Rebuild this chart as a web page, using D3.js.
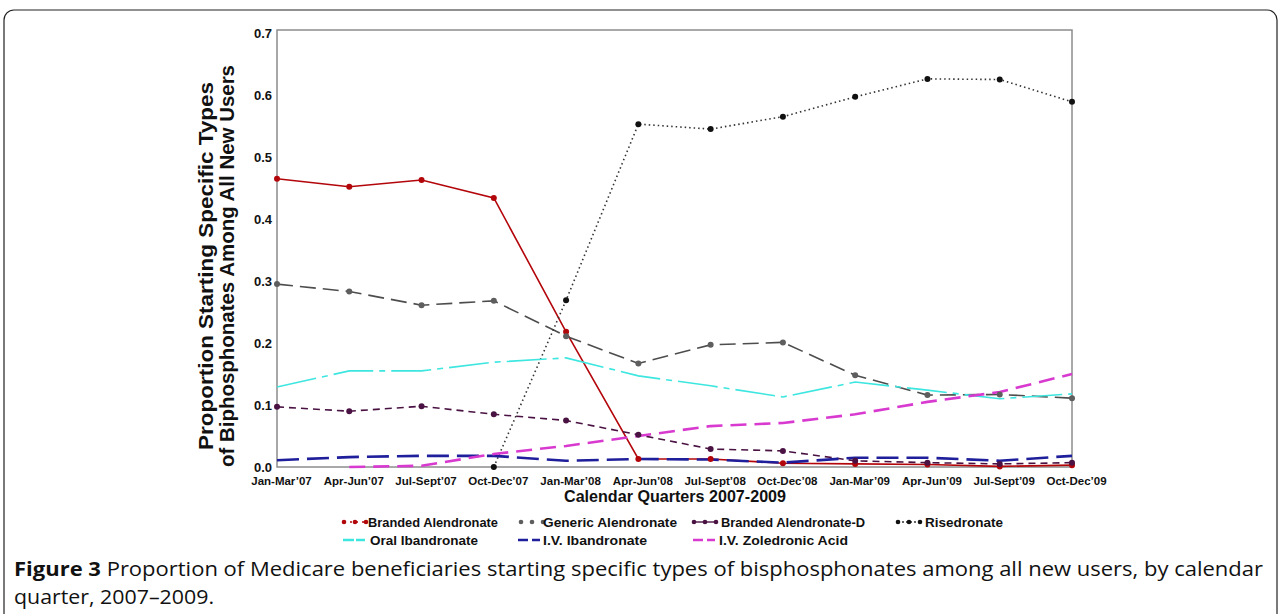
<!DOCTYPE html>
<html>
<head>
<meta charset="utf-8">
<script src="https://cdn.jsdelivr.net/npm/d3@7"></script>
<style>
body { margin: 0; background: #fff; }
svg { display: block; }
</style>
</head>
<body>
<svg width="1282" height="614"></svg>
<script>
// quarters on the x axis
var quarters = ["Jan-Mar\u201907", "Apr-Jun\u201907", "Jul-Sept\u201907", "Oct-Dec\u201907",
  "Jan-Mar\u201908", "Apr-Jun\u201908", "Jul-Sept\u201908", "Oct-Dec\u201908",
  "Jan-Mar\u201909", "Apr-Jun\u201909", "Jul-Sept\u201909", "Oct-Dec\u201909"];
var yTicks = [0, 0.1, 0.2, 0.3, 0.4, 0.5, 0.6, 0.7];

// series values (null = no value that quarter)
var brandedAlen = [0.465, 0.452, 0.463, 0.434, 0.218, 0.013, 0.013, 0.006, 0.005, 0.004, 0.001, 0.003];
var genericAlen = [0.295, 0.283, 0.261, 0.268, 0.211, 0.167, 0.197, 0.201, 0.148, 0.116, 0.117, 0.111];
var brandedAlenD = [0.097, 0.090, 0.098, 0.085, 0.075, 0.052, 0.029, 0.026, 0.010, 0.007, 0.005, 0.007];
var risedronate = [null, null, null, 0.0, 0.269, 0.553, 0.545, 0.565, 0.597, 0.626, 0.625, 0.589];
var oralIband = [0.129, 0.155, 0.155, 0.169, 0.176, 0.147, 0.131, 0.113, 0.137, 0.124, 0.110, 0.118];
var ivIband = [0.011, 0.016, 0.018, 0.018, 0.010, 0.013, 0.012, 0.007, 0.015, 0.015, 0.010, 0.018];
var ivZoled = [null, 0.0, 0.002, 0.021, 0.034, 0.050, 0.066, 0.071, 0.085, 0.105, 0.121, 0.150];

var series = [
  {name: "Branded Alendronate", values: brandedAlen, color: "#b3060b", width: 1.6, dash: null, dot: "#b3060b", legDash: "2,4"},
  {name: "Generic Alendronate", values: genericAlen, color: "#4d4d4d", width: 1.6, dash: "16,7", dot: "#5e5e5e", legDash: "0,40"},
  {name: "Branded Alendronate-D", values: brandedAlenD, color: "#4a1243", width: 1.6, dash: "7,5", dot: "#4a1243", legDash: null},
  {name: "Risedronate", values: risedronate, color: "#333", width: 1.6, dash: "1.5,3", dot: "#111", legDash: "2,2"},
  {name: "Oral Ibandronate", values: oralIband, color: "#3ee6e0", width: 1.6, dash: "40,6,6,6", dot: null, legDash: "11,2"},
  {name: "I.V. Ibandronate", values: ivIband, color: "#1f1f9c", width: 2.6, dash: "22,8", dot: null, legDash: "10,4"},
  {name: "I.V. Zoledronic Acid", values: ivZoled, color: "#d83ad0", width: 2.6, dash: "16,8", dot: null, legDash: "10,4"}
];

var svg = d3.select("svg");
var plotLeft = 277, plotRight = 1072, plotTop = 33, plotBottom = 467;

// outer rounded frame
svg.append("rect")
  .attr("x", 4).attr("y", 10).attr("width", 1273).attr("height", 620)
  .attr("rx", 10)
  .attr("fill", "none").attr("stroke", "#222").attr("stroke-width", 1.2);

var xScale = d3.scaleLinear().domain([0, quarters.length - 1]).range([plotLeft, plotRight]);
var yScale = d3.scaleLinear().domain([0, 0.7]).range([plotBottom, plotTop]);

// plot box
svg.append("rect")
  .attr("x", plotLeft).attr("y", plotTop - 3).attr("width", plotRight - plotLeft).attr("height", plotBottom - plotTop + 3)
  .attr("fill", "none").attr("stroke", "#8c8c8c").attr("stroke-width", 1.5);

// axes
var yAxis = svg.append("g")
  .attr("transform", "translate(" + plotLeft + ",0)")
  .call(d3.axisLeft(yScale).tickValues(yTicks).tickFormat(d3.format(".1f")).tickSize(0).tickPadding(5));
yAxis.select(".domain").remove();
yAxis.selectAll("text")
  .style("font-family", "Liberation Sans, Arial, sans-serif")
  .style("font-weight", "bold").style("font-size", "13px").attr("fill", "#111");

var xAxis = svg.append("g")
  .attr("transform", "translate(0," + plotBottom + ")")
  .call(d3.axisBottom(xScale).tickValues(d3.range(quarters.length)).tickFormat(function(i) { return quarters[i]; }).tickSize(0).tickPadding(10));
xAxis.select(".domain").remove();
xAxis.selectAll("text")
  .attr("dx", 4)
  .style("font-family", "Liberation Sans, Arial, sans-serif")
  .style("font-weight", "bold").style("font-size", "11.5px").attr("fill", "#111");

// lines
var line = d3.line()
  .defined(function(d) { return d != null; })
  .x(function(d, i) { return xScale(i); })
  .y(function(d) { return yScale(d); });

series.forEach(function(s) {
  svg.append("path")
    .datum(s.values)
    .attr("fill", "none")
    .attr("stroke", s.color)
    .attr("stroke-width", s.width)
    .attr("stroke-dasharray", s.dash)
    .attr("d", line);
});
series.forEach(function(s) {
  if (!s.dot) return;
  svg.append("g").selectAll("circle")
    .data(s.values.map(function(v, i) { return {v: v, i: i}; }).filter(function(d) { return d.v != null; }))
    .enter().append("circle")
    .attr("cx", function(d) { return xScale(d.i); })
    .attr("cy", function(d) { return yScale(d.v); })
    .attr("r", 3)
    .attr("fill", s.dot);
});

// axis titles
var yTitle = svg.append("text")
  .attr("transform", "translate(213,266) rotate(-90)")
  .attr("text-anchor", "middle")
  .style("font-family", "Liberation Sans, Arial, sans-serif")
  .style("font-weight", "bold").style("font-size", "20px").attr("fill", "#111");
yTitle.append("tspan").attr("x", 0).attr("y", 0).attr("textLength", 368).attr("lengthAdjust", "spacingAndGlyphs").text("Proportion Starting Specific Types");
yTitle.append("tspan").attr("x", 0).attr("y", 21).attr("textLength", 402).attr("lengthAdjust", "spacingAndGlyphs").text("of Biphosphonates Among All New Users");

svg.append("text")
  .attr("x", 675).attr("y", 502)
  .attr("text-anchor", "middle")
  .attr("textLength", 222).attr("lengthAdjust", "spacingAndGlyphs")
  .style("font-family", "Liberation Sans, Arial, sans-serif")
  .style("font-weight", "bold").style("font-size", "17px").attr("fill", "#111")
  .text("Calendar Quarters 2007-2009");

// legend
var legendPos = [
  {x: 344, y: 527, tx: 368, w: 130}, {x: 521, y: 527, tx: 543, w: 134},
  {x: 694, y: 527, tx: 721, w: 144}, {x: 898, y: 527, tx: 925, w: 78},
  {x: 343, y: 545, tx: 370, w: 108}, {x: 518, y: 545, tx: 543, w: 104},
  {x: 693, y: 545, tx: 719, w: 129}
];
var legend = svg.append("g");
series.forEach(function(s, k) {
  var p = legendPos[k];
  var g = legend.append("g");
  var len = 22;
  if (s.legDash !== "0,40") {
    g.append("line")
      .attr("x1", p.x).attr("x2", p.x + len).attr("y1", p.y - 5).attr("y2", p.y - 5)
      .attr("stroke", s.color).attr("stroke-width", s.dot ? 1.4 : 2.4)
      .attr("stroke-dasharray", s.legDash);
  }
  if (s.dot) {
    [0, 0.5, 1].forEach(function(f) {
      g.append("circle").attr("cx", p.x + f * len).attr("cy", p.y - 5).attr("r", 2.3).attr("fill", s.dot);
    });
  }
  g.append("text")
    .attr("x", p.tx).attr("y", p.y)
    .attr("textLength", p.w).attr("lengthAdjust", "spacingAndGlyphs")
    .style("font-family", "Liberation Sans, Arial, sans-serif")
    .style("font-weight", "bold").style("font-size", "13px").attr("fill", "#111")
    .text(s.name);
});

// caption
var cap1 = svg.append("text").attr("x", 14).attr("y", 576)
  .attr("textLength", 1249).attr("lengthAdjust", "spacingAndGlyphs")
  .style("font-family", "Open Sans, Noto Sans, sans-serif").style("font-size", "20px").attr("fill", "#111");
cap1.append("tspan").style("font-weight", "bold").text("Figure 3");
cap1.append("tspan").text(" Proportion of Medicare beneficiaries starting specific types of bisphosphonates among all new users, by calendar");
svg.append("text").attr("x", 14).attr("y", 604)
  .attr("textLength", 200).attr("lengthAdjust", "spacingAndGlyphs")
  .style("font-family", "Open Sans, Noto Sans, sans-serif").style("font-size", "20px").attr("fill", "#111")
  .text("quarter, 2007\u20132009.");
</script>
</body>
</html>
